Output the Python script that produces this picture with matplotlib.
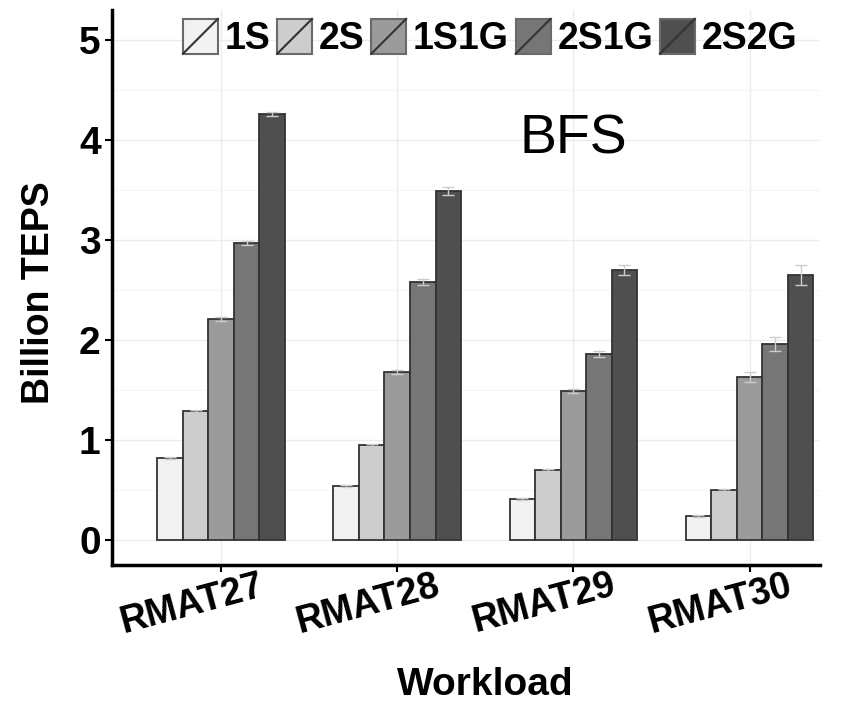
import numpy as np
import matplotlib.pyplot as plt
from matplotlib.patches import Rectangle
from matplotlib.lines import Line2D
from matplotlib.legend_handler import HandlerPatch
from matplotlib.transforms import ScaledTranslation

plt.rcParams['font.family'] = ['Liberation Sans', 'DejaVu Sans']

# ============================================================
# Data
# ============================================================
workloads = ['RMAT27', 'RMAT28', 'RMAT29', 'RMAT30']
configs = ['1S', '2S', '1S1G', '2S1G', '2S2G']
teps = {
    '1S':   [0.82, 0.54, 0.41, 0.24],
    '2S':   [1.29, 0.95, 0.70, 0.50],
    '1S1G': [2.21, 1.68, 1.49, 1.63],
    '2S1G': [2.97, 2.58, 1.86, 1.96],
    '2S2G': [4.26, 3.49, 2.70, 2.65],
}
errs = {
    '1S':   [0.01, 0.01, 0.01, 0.01],
    '2S':   [0.01, 0.01, 0.01, 0.01],
    '1S1G': [0.02, 0.02, 0.02, 0.05],
    '2S1G': [0.02, 0.03, 0.03, 0.07],
    '2S2G': [0.02, 0.04, 0.05, 0.10],
}
colors = ['#f2f2f2', '#cdcdcd', '#9b9b9b', '#767676', '#4f4f4f']


class SlashHandler(HandlerPatch):
    # ggplot-style legend key: filled square with a diagonal slash
    def create_artists(self, legend, orig_handle, xdescent, ydescent,
                       width, height, fontsize, trans):
        s = min(width, height)
        x0 = -xdescent + (width - s) / 2
        y0 = -ydescent + (height - s) / 2
        r = Rectangle((x0, y0), s, s, facecolor=orig_handle.get_facecolor(),
                      edgecolor='#6a6a6a', lw=1.5, transform=trans)
        ln = Line2D([x0, x0 + s], [y0, y0 + s], color='#333333', lw=1.5,
                    transform=trans)
        return [r, ln]


# ============================================================
# Plot
# ============================================================
fig, ax = plt.subplots(figsize=(8.41, 7.09), dpi=100)
fig.subplots_adjust(left=0.133, right=0.975, bottom=0.203, top=0.986)

x = np.arange(len(workloads))
width = 0.145
handles = []
for i, cfg in enumerate(configs):
    pos = x + (i - 2) * width
    b = ax.bar(pos, teps[cfg], width, color=colors[i], edgecolor='#333333',
               linewidth=1.3, zorder=3, label=cfg)
    ax.errorbar(pos, teps[cfg], yerr=errs[cfg], fmt='none', ecolor='#cccccc',
                elinewidth=1.0, capsize=4, capthick=1.0, zorder=4)
    handles.append(b.patches[0])

ax.set_xlim(-0.62, 3.4)
ax.set_ylim(-0.25, 5.3)
ax.set_yticks([0, 1, 2, 3, 4, 5])
ax.set_yticks(np.arange(0.5, 5.5, 1), minor=True)
ax.set_xticks(x)
ax.set_xticklabels(workloads, rotation=15, fontsize=27, fontweight='bold')
ax.tick_params(axis='y', labelsize=28, width=1.5, length=5, pad=3)
ax.tick_params(axis='x', width=1.5, length=5, pad=1)
ax.tick_params(axis='y', which='minor', length=0)
for lbl in ax.get_yticklabels():
    lbl.set_fontweight('bold')
shift = ScaledTranslation(-0.29, 0.06, fig.dpi_scale_trans)
for lbl in ax.get_xticklabels():
    lbl.set_transform(lbl.get_transform() + shift)

ax.grid(True, which='major', color='#ececec', lw=1.0, zorder=0)
ax.grid(True, which='minor', axis='y', color='#f5f5f5', lw=0.8, zorder=0)
for s in ['top', 'right']:
    ax.spines[s].set_visible(False)
for s in ['left', 'bottom']:
    ax.spines[s].set_linewidth(2.5)

ax.set_ylabel('Billion TEPS', fontsize=27, fontweight='bold')
ax.set_xlabel('Workload', fontsize=28, fontweight='bold')
ax.yaxis.set_label_coords(-0.077, 0.49)
ax.xaxis.set_label_coords(0.527, -0.184)
ax.text(2.0, 4.0, 'BFS', fontsize=40, ha='center', va='center')

ax.legend(handles, configs, handler_map={Rectangle: SlashHandler()},
          loc='center', bbox_to_anchor=(489 / 841, 1 - 38 / 709),
          bbox_transform=fig.transFigure, ncol=5, frameon=False,
          handlelength=1.05, handleheight=1.05, handletextpad=0.12,
          columnspacing=0.12, borderpad=0, borderaxespad=0,
          prop={'weight': 'bold', 'size': 27})

plt.savefig('out.png', dpi=100)
